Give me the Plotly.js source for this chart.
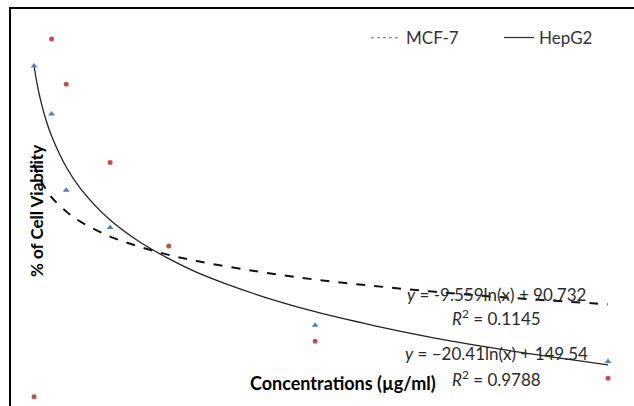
<!DOCTYPE html>
<html>
<head>
<meta charset="utf-8">
<script src="https://cdn.plot.ly/plotly-3.0.1.min.js"></script>
<style>
  html, body { margin: 0; padding: 0; background: #fff; }
  #chart { width: 634px; height: 406px; }
</style>
</head>
<body>
<div id="chart"></div>
<script>
// Concentrations (µg/ml)
const concMCF7 = [20, 50, 75, 150, 250, 500, 1000];
const viabMCF7 = [0, 95.6, 83.5, 62.6, 40.3, 14.8, 4.9];

const concHepG2 = [20, 50, 75, 150, 500, 1000];
const viabHepG2 = [88.4, 75.6, 55.2, 45.2, 19.1, 9.4];

// Logarithmic trend lines
const trendX      = [20, 25, 30, 35, 40, 50, 75, 100, 150, 200, 250, 300, 400, 500, 600, 700, 800, 900, 1000];
const trendMCF7   = [62.1, 60.0, 58.2, 56.8, 55.5, 53.3, 49.5, 46.7, 42.8, 40.1, 37.9, 36.2, 33.5, 31.3, 29.6, 28.1, 26.8, 25.7, 24.7];
const trendHepG2  = [88.4, 83.8, 80.1, 77.0, 74.2, 69.7, 61.4, 55.5, 47.2, 41.4, 36.9, 33.1, 27.3, 22.7, 19.0, 15.8, 13.1, 10.7, 8.5];

const legendNames = ["MCF-7", "HepG2"];
const eqMCF7  = "<i>y</i> = -9.559ln(x) + 90.732";
const r2MCF7  = "<i>R</i><sup>2</sup> = 0.1145";
const eqHepG2 = "<i>y</i> = \u221220.41ln(x) + 149.54";
const r2HepG2 = "<i>R</i><sup>2</sup> = 0.9788";
const xTitle = "Concentrations (\u00b5g/ml)";
const yTitle = "% of Cell Viability";

const FONT = "Lato, 'Open Sans', sans-serif";

const traces = [
  { x: trendX, y: trendMCF7, mode: "lines", line: { color: "#111", width: 2, dash: "dash", shape: "spline" }, showlegend: false, hoverinfo: "skip" },
  { x: trendX, y: trendHepG2, mode: "lines", line: { color: "#222", width: 1.3, shape: "spline" }, showlegend: false, hoverinfo: "skip" },
  { x: concMCF7, y: viabMCF7, mode: "markers", marker: { symbol: "circle", size: 5, color: "#C0504D" }, showlegend: false },
  { x: concHepG2, y: viabHepG2, mode: "markers", marker: { symbol: "triangle-up", size: 6, color: "#4F81BD" }, showlegend: false },
  { x: [null], y: [null], mode: "lines", name: legendNames[0], line: { color: "#888", width: 1.2, dash: "dot" } },
  { x: [null], y: [null], mode: "lines", name: legendNames[1], line: { color: "#333", width: 1.3 } }
];

function ann(text, x, y, size, opts) {
  return Object.assign({ text: text, x: x, y: y, xref: "paper", yref: "paper", showarrow: false,
    xanchor: "center", yanchor: "middle", font: { family: FONT, size: size, color: "#2a2a2a" } }, opts || {});
}

const layout = {
  width: 634, height: 406,
  margin: { l: 11, r: 0, t: 9, b: 0, pad: 0 },
  paper_bgcolor: "#fff", plot_bgcolor: "#fff",
  xaxis: { range: [-19.3, 1044.4], side: "top", showline: true, linecolor: "#000", linewidth: 2,
           showgrid: false, zeroline: false, showticklabels: false, ticks: "" },
  yaxis: { range: [-2.5, 103.64], showline: true, linecolor: "#000", linewidth: 2,
           showgrid: false, zeroline: false, showticklabels: false, ticks: "" },
  showlegend: true,
  legend: { orientation: "h", x: 0.5698, y: 0.927, xanchor: "left", yanchor: "middle",
            font: { family: FONT, size: 17, color: "#333" }, bgcolor: "rgba(0,0,0,0)",
            entrywidth: 88, entrywidthmode: "pixels" },
  annotations: [
    ann(eqMCF7, 0.780, 0.2796, 17),
    ann(r2MCF7, 0.780, 0.2217, 17),
    ann(eqHepG2, 0.780, 0.1310, 17),
    ann(r2HepG2, 0.780, 0.0705, 17),
    ann("<b>" + xTitle + "</b>", 0.533, 0.058, 18, { font: { family: FONT, size: 18, color: "#000" } }),
    ann("<b>" + yTitle + "</b>", 0.0401, 0.491, 17, { textangle: -90, font: { family: FONT, size: 17, color: "#000" } })
  ]
};

Plotly.newPlot("chart", traces, layout, { displayModeBar: false, staticPlot: true });
</script>
</body>
</html>
